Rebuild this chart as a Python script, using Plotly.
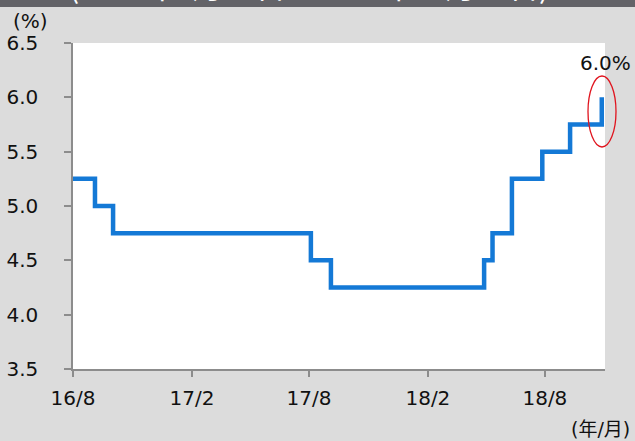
import plotly.graph_objects as go

# Data: policy rate steps (date, %)
dates = ["2016-08-19", "2016-09-22", "2016-10-20", "2017-08-22", "2017-09-22",
         "2018-05-17", "2018-05-30", "2018-06-29", "2018-08-15", "2018-09-27",
         "2018-11-15"]
rates = [5.25, 5.00, 4.75, 4.50, 4.25, 4.50, 4.75, 5.25, 5.50, 5.75, 6.00]

tick_dates = ["2016-08-19", "2017-02-19", "2017-08-19", "2018-02-19", "2018-08-19"]
tick_labels = ["16/8", "17/2", "17/8", "18/2", "18/8"]
y_ticks = [3.5, 4.0, 4.5, 5.0, 5.5, 6.0, 6.5]

title_text = "(2016年8月19日～2018年11月15日)"
last_label = "6.0%"

FONT = "DejaVu Sans, Noto Sans CJK JP"

# plot area in pixels (for paper-coordinate helpers)
PL, PR, PT, PB = 73, 605, 43, 369
def px(x):
    return (x - PL) / (PR - PL)
def py(y):
    return (PB - y) / (PB - PT)

fig = go.Figure()
fig.add_trace(go.Scatter(
    x=dates, y=rates, mode="lines", line_shape="hv",
    line=dict(color="#1479d6", width=4.5),
    showlegend=False, hoverinfo="skip",
))

fig.update_layout(
    width=635, height=441,
    margin=dict(l=PL, r=635 - PR, t=PT, b=441 - PB, autoexpand=False),
    paper_bgcolor="#dcdcdc", plot_bgcolor="#ffffff",
    font=dict(family=FONT, size=20, color="#111111"),
    xaxis=dict(
        type="date", range=["2016-08-19", "2018-11-20"], automargin=False,
        tickmode="array", tickvals=tick_dates, ticktext=tick_labels,
        ticks="outside", ticklen=6, tickwidth=1.5, tickcolor="#8c8c8c",
        showline=True, linecolor="#8c8c8c", linewidth=1.5,
        showgrid=False, zeroline=False, ticklabelstandoff=4,
        tickfont=dict(size=20, family=FONT),
    ),
    yaxis=dict(
        range=[3.5, 6.5], tickmode="array", tickvals=y_ticks, automargin=False,
        ticktext=[f"{v:.1f}" for v in y_ticks],
        ticks="outside", ticklen=7, tickwidth=1.5, tickcolor="#8c8c8c",
        showline=True, linecolor="#8c8c8c", linewidth=1.5,
        showgrid=False, zeroline=False, ticklabelstandoff=22,
        tickfont=dict(size=20, family=FONT),
    ),
    shapes=[
        dict(type="rect", xref="paper", yref="paper",
             x0=-0.2, x1=1.2, y0=py(7), y1=py(-20),
             fillcolor="#636368", line=dict(width=0), layer="below"),
        dict(type="circle", xref="paper", yref="paper",
             x0=px(588), x1=px(616), y0=py(147), y1=py(76),
             line=dict(color="#e0141e", width=1.3)),
    ],
    annotations=[
        dict(text=title_text, xref="paper", yref="paper",
             x=px(309), y=py(-15), xanchor="center", yanchor="middle",
             showarrow=False, font=dict(size=30, color="#ffffff",
                                        family="Noto Sans CJK JP")),
        dict(text="(%)", xref="paper", yref="paper",
             x=px(11), y=py(21), xanchor="left", yanchor="middle",
             showarrow=False, font=dict(size=20)),
        dict(text="(年/月)", xref="paper", yref="paper",
             x=px(632), y=py(429), xanchor="right", yanchor="middle",
             showarrow=False, font=dict(size=19, family="DejaVu Sans, Noto Sans CJK JP")),
        dict(text=last_label, xref="paper", yref="paper",
             x=px(605), y=py(63.5), xanchor="center", yanchor="middle",
             showarrow=False, font=dict(size=20)),
    ],
)

fig.write_html("out.html", config={"displayModeBar": False},
               post_script="document.body.style.margin='0';")
